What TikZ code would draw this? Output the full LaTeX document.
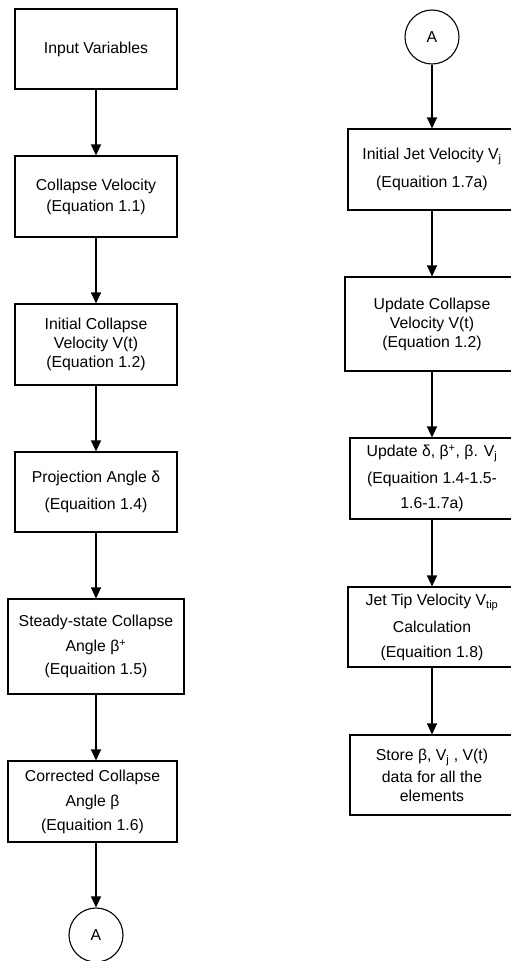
\documentclass[tikz,border=0pt]{standalone}
\usepackage{fontspec}
\setmainfont{Liberation Sans}
\usetikzlibrary{arrows.meta,positioning}

\begin{document}
\begin{tikzpicture}[x=1pt,y=-1pt,
	box/.style={draw, line width=1.1pt, align=center, inner sep=0pt, font=\fontsize{15.8}{19}\selectfont},
	conn/.style={draw, circle, line width=1.1pt, minimum size=54pt, inner sep=0pt, font=\fontsize{15.8}{19}\selectfont},
	flow/.style={-{Triangle[width=10pt,length=11pt]}, line width=1.1pt}]
	\useasboundingbox (0,0) rectangle (511,961);
				\node [box, minimum width=162pt, minimum height=80pt] (inputvar) 	at (96,49) 		{Input Variables};
				\node [box, minimum width=162pt, minimum height=81pt] (collvel) 	at (96,196.5) 	{Collapse Velocity\\[2pt](Equation 1.1)};
				\node [box, minimum width=162pt, minimum height=81pt] (initcoll) 	at (96,344.5) 	{Initial Collapse\\Velocity V(t)\\(Equation 1.2)};
				\node [box, minimum width=162pt, minimum height=80pt] (projang) 	at (96,492) 	{Projection Angle δ\\[8pt](Equaition 1.4)};
				\node [box, minimum width=176pt, minimum height=95pt] (steadyang) 	at (96,646.5) 	{Steady-state Collapse\\[6pt]Angle β\textsuperscript{+}\\[4pt](Equaition 1.5)};
				\node [box, minimum width=169pt, minimum height=81pt] (corrang) 	at (92.5,801.5) {Corrected Collapse\\[6pt]Angle β\\[5pt](Equaition 1.6)};
				\node [conn] (connA) 	at (96,935) 	{A};
				\node [conn] (connB) 	at (432,37) 	{A};
				\node [box, minimum width=168pt, minimum height=81pt] (initjet) 	at (432,169.5) 	{Initial Jet Velocity V\textsubscript{j}\\[9pt](Equaition 1.7a)};
				\node [box, minimum width=174pt, minimum height=94pt] (updvel) 	at (432,324) 	{Update Collapse\\Velocity V(t)\\(Equation 1.2)};
				\node [box, minimum width=164pt, minimum height=81pt] (upddelta) 	at (432,478.5) 	{Update δ, β\textsuperscript{+}, β. V\textsubscript{j}\\[8pt](Equaition 1.4-1.5-\\[6pt]1.6-1.7a)};
				\node [box, minimum width=168pt, minimum height=80pt] (jettip) 	at (432,627) 	{Jet Tip Velocity V\textsubscript{tip}\\[8pt]Calculation\\[6pt](Equaition 1.8)};
				\node [box, minimum width=164pt, minimum height=80pt] (storedata) 	at (432,775) 	{Store β, V\textsubscript{j} , V(t)\\[3pt]data for all the\\elements};
				\draw [flow] (inputvar) -- (collvel);
				\draw [flow] (collvel) -- (initcoll);
				\draw [flow] (initcoll) -- (projang);
				\draw [flow] (projang) -- (steadyang);
				\draw [flow] (steadyang.south) -- (steadyang.south |- corrang.north);
				\draw [flow] (corrang.south -| steadyang.south) -- (connA);
				\draw [flow] (connB) -- (initjet);
				\draw [flow] (initjet) -- (updvel);
				\draw [flow] (updvel) -- (upddelta);
				\draw [flow] (upddelta) -- (jettip);
				\draw [flow] (jettip) -- (storedata);
\end{tikzpicture}
\end{document}
